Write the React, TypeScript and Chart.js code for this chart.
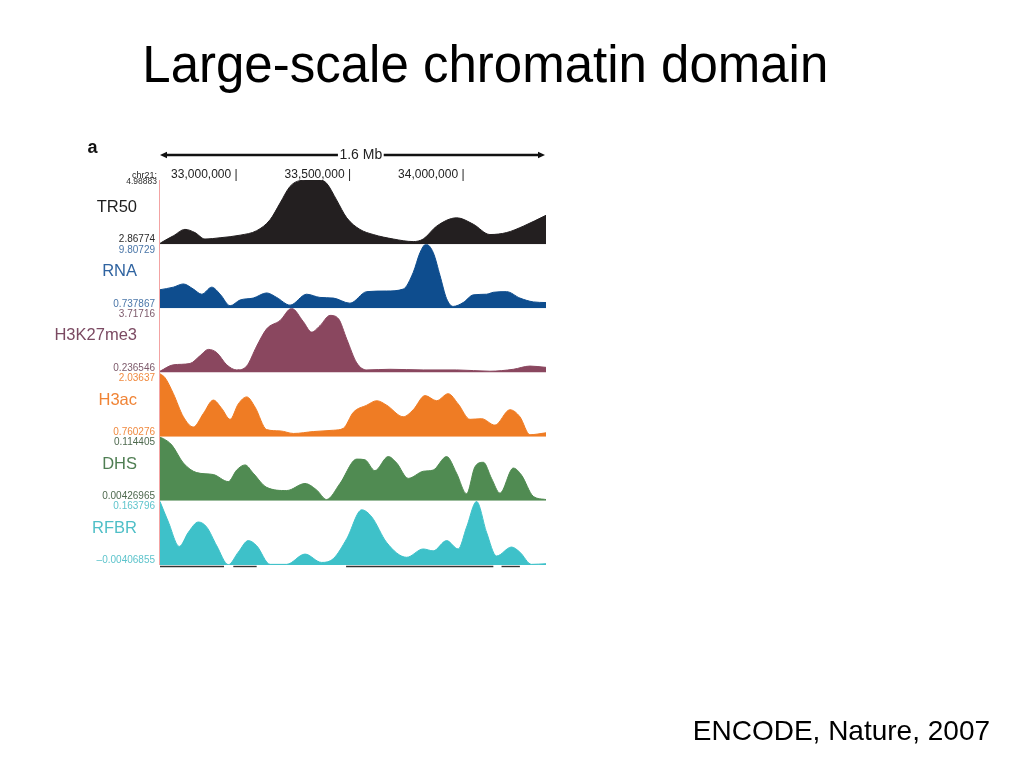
import React, { useEffect, useRef } from "react";
import { Chart, registerables } from "chart.js";

Chart.register(...registerables);

// ---------- data ----------
const TITLE = "Large-scale chromatin domain";
const SOURCE = "ENCODE, Nature, 2007";
const PANEL = "a";
const CHROM = "chr21:";
const RULER_LABEL = "1.6 Mb";
const RULER_LABEL_POS = 33.55; // Mb

const X_MIN = 32.665; // Mb
const X_MAX = 34.366; // Mb
const COORD_TICKS = [33.0, 33.5, 34.0];
const COORD_LABELS = ["33,000,000", "33,500,000", "34,000,000"];

const TRACK_NAMES = ["TR50", "RNA", "H3K27me3", "H3ac", "DHS", "RFBR"];
const TRACK_MIN = [2.86774, 0.737867, 0.236546, 0.760276, 0.00426965, -0.00406855];
const TRACK_MAX = [4.98883, 9.80729, 3.71716, 2.03637, 0.114405, 0.163796];
const TRACK_MIN_LABELS = ["2.86774", "0.737867", "0.236546", "0.760276", "0.00426965", "\u20130.00406855"];
const TRACK_MAX_LABELS = ["4.98883", "9.80729", "3.71716", "2.03637", "0.114405", "0.163796"];

const TR50_POS = [32.665, 32.673, 32.724, 32.775, 32.819, 32.863, 32.93, 33.018, 33.091, 33.15, 33.194, 33.238, 33.282, 33.326, 33.37, 33.399, 33.443, 33.488, 33.546, 33.605, 33.693, 33.781, 33.825, 33.884, 33.972, 34.046, 34.119, 34.192, 34.266, 34.366];
const TR50_VAL = [2.89, 2.932, 3.144, 3.356, 3.25, 3.038, 3.08, 3.165, 3.313, 3.674, 4.225, 4.777, 4.968, 4.988, 4.988, 4.883, 4.331, 3.738, 3.356, 3.186, 3.038, 2.953, 3.038, 3.462, 3.738, 3.525, 3.186, 3.25, 3.462, 3.822];

const RNA_POS = [32.665, 32.724, 32.768, 32.812, 32.849, 32.893, 32.93, 32.974, 33.018, 33.076, 33.135, 33.179, 33.238, 33.311, 33.37, 33.429, 33.502, 33.576, 33.664, 33.737, 33.781, 33.811, 33.837, 33.869, 33.899, 33.928, 33.957, 34.001, 34.046, 34.104, 34.134, 34.192, 34.251, 34.31, 34.366];
const RNA_VAL = [3.368, 3.731, 4.184, 3.459, 2.733, 3.731, 2.733, 1.101, 1.917, 2.189, 2.915, 2.28, 1.191, 2.733, 2.28, 2.189, 1.464, 3.096, 3.187, 3.459, 5.817, 8.628, 9.807, 8.628, 5.363, 2.098, 1.01, 1.554, 2.642, 2.733, 3.005, 3.096, 2.189, 1.645, 1.554];

const H3K27_POS = [32.665, 32.724, 32.797, 32.841, 32.878, 32.915, 32.959, 33.003, 33.047, 33.091, 33.135, 33.194, 33.245, 33.297, 33.333, 33.37, 33.414, 33.451, 33.488, 33.532, 33.576, 33.678, 33.825, 33.972, 34.119, 34.222, 34.295, 34.366];
const H3K27_VAL = [0.306, 0.654, 0.724, 1.141, 1.49, 1.316, 0.654, 0.376, 0.585, 1.664, 2.603, 3.056, 3.717, 2.986, 2.429, 2.777, 3.334, 3.16, 2.046, 0.759, 0.376, 0.411, 0.376, 0.376, 0.306, 0.411, 0.585, 0.515];

const H3AC_POS = [32.665, 32.687, 32.724, 32.768, 32.812, 32.856, 32.9, 32.937, 32.974, 33.01, 33.047, 33.084, 33.135, 33.194, 33.253, 33.341, 33.429, 33.473, 33.517, 33.576, 33.62, 33.664, 33.737, 33.781, 33.833, 33.884, 33.935, 33.979, 34.031, 34.082, 34.141, 34.207, 34.251, 34.295, 34.366];
const H3AC_VAL = [2.011, 1.934, 1.615, 1.156, 0.952, 1.22, 1.488, 1.322, 1.105, 1.411, 1.551, 1.347, 0.901, 0.875, 0.824, 0.862, 0.888, 0.926, 1.245, 1.386, 1.475, 1.386, 1.156, 1.296, 1.577, 1.475, 1.615, 1.411, 1.105, 1.118, 0.99, 1.296, 1.156, 0.799, 0.837];

const DHS_POS = [32.665, 32.68, 32.717, 32.768, 32.827, 32.9, 32.966, 33.003, 33.04, 33.076, 33.135, 33.223, 33.304, 33.355, 33.399, 33.458, 33.532, 33.568, 33.612, 33.671, 33.708, 33.759, 33.825, 33.869, 33.928, 33.972, 34.016, 34.053, 34.09, 34.126, 34.163, 34.222, 34.258, 34.31, 34.366];
const DHS_VAL = [0.1133, 0.111, 0.1001, 0.0692, 0.0527, 0.0494, 0.0373, 0.0571, 0.0659, 0.0516, 0.0274, 0.0219, 0.034, 0.023, 0.0065, 0.034, 0.0759, 0.0748, 0.0561, 0.0803, 0.0692, 0.0428, 0.055, 0.0571, 0.0803, 0.0516, 0.0164, 0.0627, 0.0704, 0.0428, 0.0175, 0.0605, 0.0484, 0.012, 0.0065];

const RFBR_POS = [32.665, 32.702, 32.75, 32.79, 32.834, 32.871, 32.915, 32.966, 33.01, 33.054, 33.091, 33.15, 33.223, 33.304, 33.377, 33.429, 33.488, 33.554, 33.598, 33.664, 33.752, 33.825, 33.869, 33.928, 33.979, 34.016, 34.06, 34.104, 34.148, 34.214, 34.251, 34.302, 34.366];
const RFBR_VAL = [0.1621, 0.1084, 0.0446, 0.0815, 0.1084, 0.095, 0.0463, -0.0032, 0.0295, 0.0597, 0.0463, -0.0024, -0.0024, 0.0245, 0.0027, 0.0127, 0.0648, 0.1403, 0.1218, 0.0547, 0.0161, 0.0379, 0.0329, 0.0597, 0.0379, 0.095, 0.1621, 0.0815, 0.0194, 0.0429, 0.0295, -0.0024, -0.0007];

// annotated domains drawn under the tracks (Mb)
const DOMAIN_START = [32.665, 32.988, 33.485, 34.17];
const DOMAIN_END = [32.947, 33.091, 34.134, 34.251];

// ---------- styles ----------
const FILL_COLORS = ["#231f20", "#0e4d8e", "#8a475f", "#ef7c24", "#508b52", "#3ec1c9"];
const NAME_COLORS = ["#1e1e1e", "#2f63a0", "#7b4a62", "#f08436", "#4f7e53", "#4fbfc7"];
const NUM_COLORS = ["#2a2a2a", "#4a76a8", "#7d5a6b", "#f08a40", "#4f6a4f", "#5ec4cc"];
const AXIS_COLOR = "#f3a3a3";
const FONT = '"Liberation Sans", Arial, Helvetica, sans-serif';

const TRACK_POS = [TR50_POS, RNA_POS, H3K27_POS, H3AC_POS, DHS_POS, RFBR_POS];
const TRACK_VAL = [TR50_VAL, RNA_VAL, H3K27_VAL, H3AC_VAL, DHS_VAL, RFBR_VAL];

const overlayPlugin = {
  id: "genomeOverlay",
  afterDatasetsDraw(chart: any) {
    const ctx: CanvasRenderingContext2D = chart.ctx;
    const area = chart.chartArea;
    const xs = chart.scales.x;
    ctx.save();
    ctx.textBaseline = "alphabetic";

    // left axis line
    ctx.strokeStyle = AXIS_COLOR;
    ctx.lineWidth = 1;
    ctx.beginPath();
    ctx.moveTo(area.left - 0.5, area.top);
    ctx.lineTo(area.left - 0.5, area.bottom);
    ctx.stroke();

    // panel letter
    ctx.fillStyle = "#111";
    ctx.font = `bold 18px ${FONT}`;
    ctx.textAlign = "left";
    ctx.fillText(PANEL, 87.5, 152.5);

    // scale ruler
    const L = xs.getPixelForValue(X_MIN);
    const R = xs.getPixelForValue(X_MAX);
    const ry = 155;
    ctx.strokeStyle = "#111";
    ctx.lineWidth = 2.6;
    ctx.beginPath();
    ctx.moveTo(L + 5, ry);
    ctx.lineTo(R - 5, ry);
    ctx.stroke();
    ctx.fillStyle = "#111";
    ctx.beginPath();
    ctx.moveTo(L, ry);
    ctx.lineTo(L + 7, ry - 3.2);
    ctx.lineTo(L + 7, ry + 3.2);
    ctx.closePath();
    ctx.fill();
    ctx.beginPath();
    ctx.moveTo(R - 1, ry);
    ctx.lineTo(R - 8, ry - 3.2);
    ctx.lineTo(R - 8, ry + 3.2);
    ctx.closePath();
    ctx.fill();
    ctx.font = `14px ${FONT}`;
    const lx = xs.getPixelForValue(RULER_LABEL_POS);
    const tw = ctx.measureText(RULER_LABEL).width;
    ctx.fillStyle = "#fff";
    ctx.fillRect(lx - tw / 2 - 1.5, ry - 8, tw + 3, 14);
    ctx.fillStyle = "#222";
    ctx.textAlign = "center";
    ctx.fillText(RULER_LABEL, lx, 158.5);

    // coordinate labels
    ctx.font = `12px ${FONT}`;
    ctx.textAlign = "right";
    ctx.fillStyle = "#222";
    COORD_TICKS.forEach((v, i) => {
      const px = xs.getPixelForValue(v);
      ctx.fillText(COORD_LABELS[i] + " |", px + 1.6, 177.5);
    });

    // chromosome label
    ctx.font = `9px ${FONT}`;
    ctx.fillStyle = "#222";
    ctx.fillText(CHROM, area.left - 3, area.top - 2.2);

    // track labels
    TRACK_NAMES.forEach((name, i) => {
      const ys = chart.scales["y" + i];
      const top = ys.getPixelForValue(TRACK_MAX[i]);
      const bottom = ys.getPixelForValue(TRACK_MIN[i]);
      ctx.textAlign = "right";
      ctx.fillStyle = NAME_COLORS[i];
      ctx.font = `16.5px ${FONT}`;
      ctx.fillText(name, area.left - 23, top + 32);
      ctx.fillStyle = NUM_COLORS[i];
      if (i === 0) {
        ctx.font = `8.5px ${FONT}`;
        ctx.fillText(TRACK_MAX_LABELS[i], area.left - 3, top + 4.4);
      } else {
        ctx.font = `10px ${FONT}`;
        ctx.fillText(TRACK_MAX_LABELS[i], area.left - 5, top + 8.5);
      }
      ctx.font = `10px ${FONT}`;
      ctx.fillText(TRACK_MIN_LABELS[i], area.left - 5, bottom - 1.7);
    });

    // domain segments below the tracks
    ctx.strokeStyle = "#333";
    ctx.lineWidth = 1.4;
    DOMAIN_START.forEach((s, i) => {
      const a = xs.getPixelForValue(s);
      const b = xs.getPixelForValue(DOMAIN_END[i]);
      ctx.beginPath();
      ctx.moveTo(a, area.bottom + 1.5);
      ctx.lineTo(b, area.bottom + 1.5);
      ctx.stroke();
    });

    ctx.restore();
  },
};

export default function App() {
  const canvasRef = useRef<HTMLCanvasElement>(null);

  useEffect(() => {
    const canvas = canvasRef.current;
    if (!canvas) return;

    const scales: any = {
      x: { type: "linear", min: X_MIN, max: X_MAX, display: false },
    };
    TRACK_NAMES.forEach((_, i) => {
      scales["y" + i] = {
        type: "linear",
        position: "right",
        stack: "tracks",
        stackWeight: 1,
        weight: i,
        min: TRACK_MIN[i],
        max: TRACK_MAX[i],
        display: false,
      };
    });

    const datasets = TRACK_NAMES.map((name, i) => ({
      label: name,
      data: TRACK_POS[i].map((x, j) => ({ x, y: TRACK_VAL[i][j] })),
      xAxisID: "x",
      yAxisID: "y" + i,
      borderColor: FILL_COLORS[i],
      backgroundColor: FILL_COLORS[i],
      borderWidth: 1,
      fill: "start",
      pointRadius: 0,
      pointHoverRadius: 0,
      cubicInterpolationMode: "monotone" as const,
    }));

    const chart = new Chart(canvas, {
      type: "line",
      data: { datasets },
      options: {
        animation: false,
        responsive: false,
        devicePixelRatio: 1,
        events: [],
        layout: { padding: { left: 160, top: 180, right: 478, bottom: 203 } },
        plugins: {
          legend: { display: false },
          tooltip: { enabled: false },
          title: { display: false },
        },
        scales,
      },
      plugins: [overlayPlugin],
    } as any);

    return () => chart.destroy();
  }, []);

  return (
    <div
      style={{
        position: "absolute",
        left: 0,
        top: 0,
        width: 1024,
        height: 768,
        background: "#ffffff",
        overflow: "hidden",
        fontFamily: FONT,
      }}
    >
      <canvas
        ref={canvasRef}
        width={1024}
        height={768}
        style={{ position: "absolute", left: 0, top: 0, width: 1024, height: 768 }}
      />
      <div
        style={{
          position: "absolute",
          left: 142.3,
          top: 38.5,
          fontSize: 51,
          lineHeight: "51px",
          color: "#000",
          whiteSpace: "nowrap",
        }}
      >
        {TITLE}
      </div>
      <div
        style={{
          position: "absolute",
          left: 692.8,
          top: 717.3,
          fontSize: 28,
          lineHeight: "28px",
          color: "#000",
          whiteSpace: "nowrap",
        }}
      >
        {SOURCE}
      </div>
    </div>
  );
}
